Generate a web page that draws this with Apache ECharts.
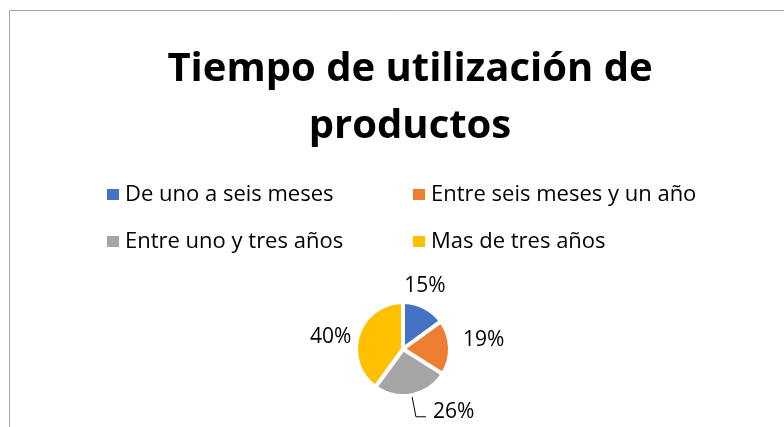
<!DOCTYPE html>
<html>
<head>
<meta charset="utf-8">
<script src="https://cdn.jsdelivr.net/npm/echarts@6/dist/echarts.min.js"></script>
<style>
  html,body{margin:0;padding:0;background:#fff;}
  #container{width:784px;height:427px;}
</style>
</head>
<body>
<div id="container"></div>
<script>
    var titleText="Tiempo de utilización de\nproductos";
    var categories=["De uno a seis meses","Entre seis meses y un año","Entre uno y tres años","Mas de tres años"];
    var values=[15,19,26,40];
    var colors=["#4472C4","#ED7D31","#A5A5A5","#FFC000"];

    // label nudges (excel "best fit" placement)
    var labelShift=[{dx:-45,dy:-2},{dx:-24,dy:-7},{dx:2,dy:-5},{dx:29,dy:9}];

    var pieData=[];
    for(var i=0;i<categories.length;i++){
        var item={
            name:categories[i],
            value:values[i],
            itemStyle:{color:colors[i]},
            labelLine:{show:false,length:22,length2:10}
        };
        if(i==2){
            item.labelLine={show:true,length:22,length2:10,lineStyle:{color:"#000",width:1}};
        }
        pieData.push(item);
    }

    var dom=document.getElementById("container");
    var myChart=echarts.init(dom);
    var option={
        backgroundColor:"#ffffff",
        animation:false,
        title:{
            text:titleText,
            left:405,
            top:36,
            textAlign:"center",
            textStyle:{
                fontFamily:"Open Sans",
                fontWeight:"bold",
                fontSize:40,
                lineHeight:57,
                color:"#000"
            }
        },
        legend:{
            left:105,
            top:176,
            width:640,
            padding:0,
            itemWidth:14,
            itemHeight:13,
            itemGap:10,
            icon:"rect",
            textStyle:{
                fontFamily:"Open Sans",
                fontSize:22,
                color:"#000",
                width:276,
                lineHeight:37
            },
            data:categories
        },
        graphic:[{
            type:"rect",
            shape:{x:9.5,y:10.5,width:900,height:600},
            style:{fill:null,stroke:"#a6a6a6",lineWidth:1},
            silent:true
        }],
        series:[{
            type:"pie",
            center:[403,349],
            radius:47,
            startAngle:90,
            clockwise:true,
            avoidLabelOverlap:false,
            itemStyle:{borderColor:"#fff",borderWidth:4},
            label:{
                show:true,
                position:"outside",
                formatter:"{d}%",
                fontFamily:"Open Sans",
                fontSize:21,
                color:"#000"
            },
            labelLayout:function(params){
                return labelShift[params.dataIndex];
            },
            data:pieData
        }]
    };
    myChart.setOption(option);
</script>
</body>
</html>
